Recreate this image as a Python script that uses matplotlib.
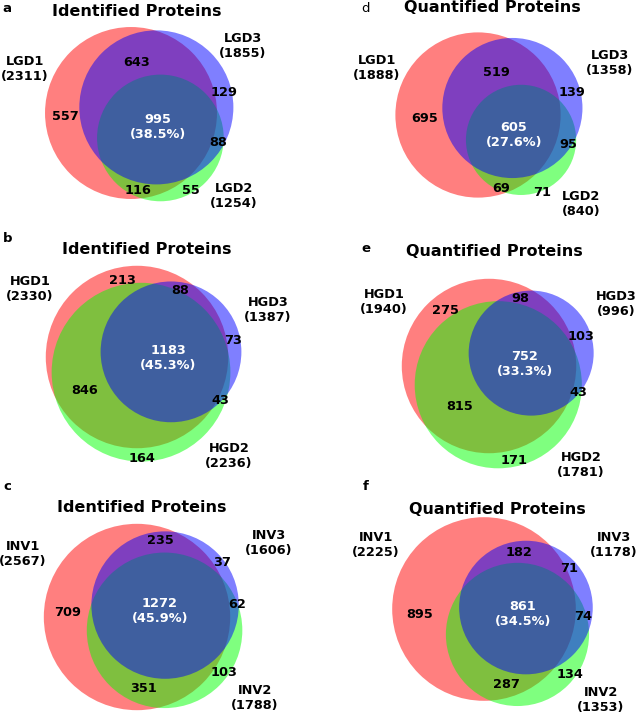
import numpy as np
import matplotlib.pyplot as plt
from matplotlib.patches import Circle

# ---- data ----
letters = ['a', 'b', 'c', 'd', 'e', 'f']
titles = ['Identified Proteins'] * 3 + ['Quantified Proteins'] * 3
set_names = [['LGD1', 'LGD2', 'LGD3'],
             ['HGD1', 'HGD2', 'HGD3'],
             ['INV1', 'INV2', 'INV3']] * 2
set_totals = [[2311, 1254, 1855],
              [2330, 2236, 1387],
              [2567, 1788, 1606],
              [1888, 840, 1358],
              [1940, 1781, 996],
              [2225, 1353, 1178]]
# region counts: only1, only2, only3, 1&2, 1&3, 2&3, all three
regions = [[557, 55, 129, 116, 643, 88, 995],
           [213, 164, 73, 846, 88, 43, 1183],
           [709, 103, 37, 351, 235, 62, 1272],
           [695, 71, 139, 69, 519, 95, 605],
           [275, 171, 103, 815, 98, 43, 752],
           [895, 134, 71, 287, 182, 74, 861]]
core_pct = [38.5, 45.3, 45.9, 27.6, 33.3, 34.5]

# ---- layout (pixels of the 638x717 picture) ----
W, H = 638, 717
rot = [12.5, 8.6, 23, 11.5, 17, 2]           # direction set1 -> set3
red_px = [(131, 113), (137, 357), (137, 617), (478, 115), (489, 366), (484, 609)]
scale = [3.17, 3.35, 3.26, 3.37, 3.51, 3.45]
title_px = [(137, 11), (147, 250), (142, 507), (492, 7), (494, 252), (497, 509)]
letter_px = [(7, 9), (8, 238), (7, 487), (366, 9), (366, 248), (366, 486)]
name_px = [[(25, 69), (234, 196), (243, 46)],
           [(30, 289), (229, 456), (268, 310)],
           [(23, 554), (255, 698), (269, 543)],
           [(377, 68), (581, 204), (610, 63)],
           [(384, 302), (581, 465), (616, 304)],
           [(376, 545), (601, 700), (614, 545)]]
region_px = [[(65, 117), (191, 191), (224, 93), (138, 191), (137, 62), (218, 143), (158, 127)],
             [(122, 280), (142, 458), (233, 341), (85, 391), (180, 290), (220, 401), (168, 358)],
             [(68, 612), (224, 673), (222, 563), (144, 688), (160, 541), (237, 605), (160, 611)],
             [(425, 118), (542, 192), (572, 93), (501, 188), (496, 72), (568, 144), (514, 135)],
             [(445, 311), (514, 460), (581, 337), (460, 407), (520, 299), (578, 392), (525, 364)],
             [(420, 615), (570, 674), (569, 569), (506, 685), (519, 553), (583, 617), (523, 614)]]


def lens(d, r1, r2):
    if d >= r1 + r2:
        return 0.0
    if d <= abs(r1 - r2):
        return np.pi * min(r1, r2) ** 2
    a1 = r1 ** 2 * np.arccos((d ** 2 + r1 ** 2 - r2 ** 2) / (2 * d * r1))
    a2 = r2 ** 2 * np.arccos((d ** 2 + r2 ** 2 - r1 ** 2) / (2 * d * r2))
    k = np.sqrt((-d + r1 + r2) * (d + r1 - r2) * (d - r1 + r2) * (d + r1 + r2))
    return a1 + a2 - 0.5 * k


def distance(r1, r2, area):
    # centre distance giving the wanted overlap area
    lo, hi = abs(r1 - r2), r1 + r2
    for _ in range(60):
        mid = (lo + hi) / 2
        if lens(mid, r1, r2) > area:
            lo = mid
        else:
            hi = mid
    return (lo + hi) / 2


def pix(x, y):
    return x / W, 1 - y / H


fig = plt.figure(figsize=(W / 100, H / 100), dpi=100)

for p in range(6):
    n1, n2, n3 = set_totals[p]
    o1, o2, o3, o12, o13, o23, o123 = regions[p]
    r1, r2, r3 = np.sqrt(np.array([n1, n2, n3]) / np.pi)
    d12 = distance(r1, r2, o12 + o123)
    d13 = distance(r1, r3, o13 + o123)
    d23 = distance(r2, r3, o23 + o123)
    cosang = (d13 ** 2 + d12 ** 2 - d23 ** 2) / (2 * d13 * d12)
    theta = np.arccos(np.clip(cosang, -1, 1))
    phi = np.radians(rot[p])
    c1 = (0.0, 0.0)
    c3 = (d13 * np.cos(phi), d13 * np.sin(phi))
    c2 = (d12 * np.cos(phi - theta), d12 * np.sin(phi - theta))

    px, py = red_px[p]
    s = scale[p]
    ax = fig.add_axes([0, 0, 1, 1])
    ax.set_xlim(-px / s, (W - px) / s)
    ax.set_ylim(-(H - py) / s, py / s)
    ax.axis('off')
    ax.patch.set_alpha(0)
    ax.add_patch(Circle(c1, r1, color='#ff0000', alpha=0.5, lw=0))
    ax.add_patch(Circle(c2, r2, color='#00ff00', alpha=0.5, lw=0))
    ax.add_patch(Circle(c3, r3, color='#0000ff', alpha=0.5, lw=0))

    fig.text(*pix(*title_px[p]), titles[p], fontsize=11.5, fontweight='bold',
             ha='center', va='center')
    fig.text(*pix(*letter_px[p]), letters[p], fontsize=9.5,
             fontweight='normal' if letters[p] == 'd' else 'bold',
             ha='center', va='center')
    for k in range(3):
        fig.text(*pix(*name_px[p][k]), f'{set_names[p][k]}\n({set_totals[p][k]})',
                 fontsize=9.3, fontweight='bold', ha='center', va='center',
                 linespacing=1.15)
    for k in range(6):
        fig.text(*pix(*region_px[p][k]), str(regions[p][k]), fontsize=9.3,
                 fontweight='bold', ha='center', va='center')
    fig.text(*pix(*region_px[p][6]), f'{regions[p][6]}\n({core_pct[p]}%)',
             fontsize=9.3, fontweight='bold', color='white', ha='center',
             va='center', linespacing=1.15)

fig.savefig('out.png', dpi=100)
